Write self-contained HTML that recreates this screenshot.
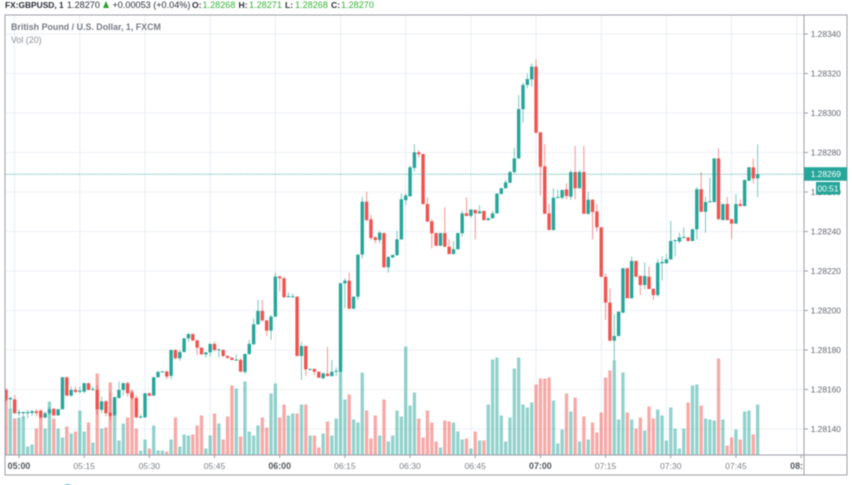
<!DOCTYPE html>
<html lang="en">
<head>
<meta charset="utf-8">
<title>GBPUSD 1 minute chart</title>
<style>
html,body{margin:0;padding:0;background:#fff;width:852px;height:485px;overflow:hidden}
#root{position:relative;width:852px;height:485px;filter:blur(.45px);font-family:"Liberation Sans",sans-serif}
.h{position:absolute;top:0;font-size:9.1px;line-height:11px;white-space:pre;color:#2a2e39}
.b{font-weight:bold}
.g{color:#35b235}
svg{position:absolute;left:0;top:0}
</style>
</head>
<body>
<div id="root">
  <span class="h b" style="left:5px;font-size:8.4px">FX:GBPUSD, 1</span>
  <span class="h" style="left:67px">1.28270</span>
  <span style="position:absolute;left:103px;top:1px;width:0;height:0;border-left:3.8px solid transparent;border-right:3.8px solid transparent;border-bottom:7px solid #2ca02c"></span>
  <span class="h" style="left:112.5px">+0.00053 (+0.04%)</span>
  <span class="h b" style="left:192px;font-size:8.6px">O:</span>
  <span class="h g" style="left:202.5px">1.28268</span>
  <span class="h b" style="left:238.5px;font-size:8.6px">H:</span>
  <span class="h g" style="left:249px">1.28271</span>
  <span class="h b" style="left:285px;font-size:8.6px">L:</span>
  <span class="h g" style="left:295px">1.28268</span>
  <span class="h b" style="left:331px;font-size:8.6px">C:</span>
  <span class="h g" style="left:341px">1.28270</span>
  <svg id="chart" width="852" height="485" viewBox="0 0 852 485"></svg>
  <span style="position:absolute;left:11px;top:22px;font-size:8.9px;line-height:11px;font-weight:bold;color:#767b85;white-space:pre">British Pound / U.S. Dollar, 1, FXCM</span>
  <span style="position:absolute;left:11px;top:35px;font-size:8.9px;line-height:11px;color:#8a8f98;white-space:pre">Vol (20)</span>
  <span style="position:absolute;left:64px;top:484px;width:7px;height:4px;border-radius:50%;background:#6cc5ee"></span>
</div>
<script>
// Prices are in points above 1.28000 (1 point = 0.00001). First bar is 3 minutes before 05:00.
const firstBar = -3;
const opens = [
159.8,155.0,155.0,148.0,148.0,148.0,148.1,149.0,149.3,145.8,
148.0,150.2,146.9,150.0,166.2,156.9,159.8,158.8,158.9,163.2,
159.9,159.8,149.7,154.0,148.3,146.9,155.7,159.8,163.2,158.4,
155.7,145.8,145.9,158.1,156.9,166.2,168.9,169.1,166.9,180.0,
175.8,179.0,185.9,188.1,184.9,181.2,177.8,178.8,183.1,180.0,
180.0,177.0,176.1,174.8,175.0,168.9,178.0,182.9,193.0,199.8,
195.0,189.8,196.9,217.2,216.3,206.8,206.8,207.0,177.0,182.0,
169.9,170.4,169.0,165.7,168.0,166.8,169.2,169.0,213.8,215.1,
200.9,207.0,228.3,255.1,246.2,237.0,235.7,239.2,221.9,226.9,
228.0,236.0,255.9,257.8,272.2,280.1,279.2,253.9,245.2,239.2,
232.8,239.2,232.3,228.6,231.0,239.1,249.2,247.9,250.9,249.2,
250.4,245.8,246.7,249.2,259.0,261.9,264.7,270.1,277.0,301.9,
314.2,317.0,323.5,290.2,273.0,249.2,240.8,257.0,257.1,261.3,
257.6,270.1,261.9,270.1,248.9,256.1,250.2,242.1,217.1,204.0,
184.7,187.1,198.9,221.4,206.2,225.1,217.5,212.9,217.1,211.0,
207.8,223.9,223.9,225.9,235.2,234.9,236.9,237.0,235.2,241.1,
261.4,250.0,254.8,254.9,277.0,245.8,253.9,246.2,244.0,253.9,
252.9,265.7,272.5,266.9];
const highs = [
160.6,156.4,157.2,150.0,148.8,149.6,149.6,150.0,150.0,148.8,
151.3,150.8,150.2,166.4,166.4,161.5,161.8,161.5,163.5,163.4,
161.5,162.3,156.4,154.7,158.9,156.4,164.0,163.4,164.0,159.8,
157.2,147.6,158.3,158.4,166.4,169.4,169.4,169.6,180.2,180.4,
180.0,186.1,188.5,188.3,185.1,181.4,179.2,183.3,184.2,180.4,
180.4,177.2,176.3,177.8,175.8,178.2,185.1,196.0,205.3,205.3,
195.2,197.8,219.2,217.7,217.1,209.2,208.7,207.2,184.2,182.2,
170.6,170.7,169.2,168.4,181.4,174.9,171.2,214.0,216.3,219.2,
207.2,228.5,257.6,260.2,248.4,237.7,240.3,239.4,227.6,228.3,
240.3,259.3,259.3,273.2,284.1,281.3,279.4,257.3,246.2,239.4,
239.4,252.2,236.0,235.2,239.4,250.4,257.3,251.3,251.1,253.4,
250.6,246.9,250.4,259.4,262.1,266.1,270.8,282.4,309.1,315.4,
320.1,325.1,327.2,290.4,284.1,253.9,261.9,261.3,261.2,264.4,
271.1,283.3,271.1,283.3,260.2,256.3,253.9,242.3,218.8,211.2,
198.2,199.6,221.6,221.6,227.3,225.3,217.7,224.4,222.2,211.2,
226.1,227.3,228.6,245.3,235.9,239.4,242.1,237.2,241.6,262.4,
270.0,257.6,267.3,277.2,282.1,254.1,257.6,246.4,259.0,256.3,
266.3,272.7,277.0,284.1];
const lows = [
153.9,150.5,147.6,146.6,145.4,145.4,146.6,146.3,145.4,145.4,
147.1,146.3,146.7,149.8,156.7,156.4,158.1,158.1,158.1,159.6,
159.4,147.1,148.0,146.3,144.6,146.7,155.4,157.2,156.4,154.7,
145.4,145.3,145.7,156.4,156.7,166.0,168.7,165.2,165.2,175.3,
174.6,178.8,184.2,184.6,177.5,177.6,176.1,176.7,179.2,176.3,
176.3,175.8,174.8,174.6,168.7,167.9,177.5,182.6,192.7,194.4,
187.1,185.1,196.7,209.6,206.5,206.5,206.5,176.8,164.8,166.8,
169.7,167.3,165.8,165.2,166.5,166.6,166.8,168.8,201.1,200.7,
200.7,205.3,226.4,245.0,235.7,234.0,234.0,221.7,219.2,226.4,
227.6,235.8,253.4,257.6,270.3,277.4,253.7,244.8,231.5,232.6,
232.6,232.1,228.4,228.4,230.8,237.4,247.7,247.0,236.0,249.0,
245.6,245.6,246.5,249.0,258.8,261.7,264.5,269.4,276.8,295.1,
312.5,313.3,289.8,258.1,248.8,240.6,240.4,256.8,256.3,256.3,
256.0,256.3,261.7,248.8,248.7,236.0,239.9,216.9,195.2,184.5,
174.4,186.8,198.7,206.0,206.0,216.9,207.8,210.7,210.7,205.3,
207.0,215.1,223.7,225.7,227.3,234.0,236.5,235.0,235.0,236.0,
249.8,239.4,254.6,254.7,246.0,245.6,245.6,236.2,243.8,252.7,
252.7,265.5,264.4,257.3];
const closes = [
154.7,155.7,148.0,148.6,148.6,148.6,149.0,148.1,145.8,148.0,
150.0,146.9,150.0,166.2,156.9,159.8,158.8,159.4,163.2,159.8,
160.3,150.0,154.0,148.0,146.6,156.1,159.8,163.2,158.1,155.7,
145.9,146.3,158.1,156.9,166.2,168.9,169.2,166.5,180.0,175.8,
179.0,185.9,188.1,184.8,181.2,177.8,178.8,183.1,180.0,180.4,
177.0,176.0,175.0,175.1,169.1,178.0,183.1,193.0,199.8,195.0,
189.8,196.9,217.2,216.3,206.7,207.3,207.2,177.0,182.0,170.2,
170.4,169.0,166.0,168.2,166.8,169.0,169.5,213.8,215.1,200.9,
207.0,228.3,255.1,245.8,236.7,235.7,239.4,221.9,227.1,228.1,
236.0,256.3,258.2,272.5,280.1,279.1,253.9,245.0,239.1,232.8,
239.2,232.3,228.6,231.0,239.2,249.2,247.9,251.1,249.2,250.2,
245.8,246.7,249.2,259.2,261.9,264.9,270.1,277.0,302.0,314.2,
317.2,323.5,290.0,272.8,249.0,240.8,257.1,257.5,261.0,258.0,
270.1,261.9,270.1,249.0,256.1,249.9,242.1,217.1,204.0,184.7,
187.1,199.4,221.4,206.2,225.1,217.1,212.9,217.5,210.9,207.8,
224.2,224.6,225.9,235.2,235.7,237.0,237.2,235.2,241.1,261.4,
250.0,254.9,255.3,277.0,246.2,253.9,245.8,244.0,253.9,252.9,
266.1,272.5,266.9,269.0];
const volumes = [
65,46,36,37,38,8,10,26,38,26,
53,36,26,17,28,21,23,44,23,32,
12,81,26,27,72,39,14,31,37,64,
26,4,15,6,29,4,4,3,15,37,
8,20,19,20,29,39,6,19,41,31,
15,38,69,66,18,73,23,19,29,37,
27,61,71,37,50,39,41,41,50,50,
19,19,7,21,33,19,36,84,55,60,
35,32,82,44,16,39,19,55,13,19,
44,38,108,49,62,36,17,44,32,13,
7,34,33,32,23,15,16,6,23,14,
14,50,95,97,39,13,37,86,97,50,
47,52,70,76,76,77,54,11,25,61,
43,57,13,38,15,32,22,42,77,84,
94,35,82,42,35,26,37,24,48,36,
45,39,14,47,26,6,26,52,69,70,
49,36,35,34,96,35,9,17,25,15,
43,44,20,50];
const priceTickLabels = ["1.28340","1.28320","1.28300","1.28280","1.28260","1.28240","1.28220","1.28200","1.28180","1.28160","1.28140"];
const timeTickLabels = ["05:00","05:15","05:30","05:45","06:00","06:15","06:30","06:45","07:00","07:15","07:30","07:45","08:"];
const lastPriceLabel = "1.28269";
const countdownLabel = "00:51";

const NS = "http://www.w3.org/2000/svg";
const svg = document.getElementById("chart");
const UP = "#26a69a", DOWN = "#ef5350";
const xScale = b => 19 + 4.345 * b;
const yScale = pts => 34 + (340 - pts) * 1.975;
const labelToPts = s => (parseFloat(s) - 1.28) * 100000;
const volScale = v => 454.5 - v;

function make(tag, attrs, parent, text) {
  const el = document.createElementNS(NS, tag);
  for (const k in attrs) el.setAttribute(k, attrs[k]);
  if (text !== undefined) el.textContent = text;
  parent.appendChild(el);
  return el;
}

const defs = make("defs", {}, svg);
const clip = make("clipPath", {id: "plot-clip"}, defs);
make("rect", {x: 5.5, y: 15, width: 798, height: 439.5}, clip);

const grid = make("g", {}, svg);


priceTickLabels.forEach(function (l) {
  const y = yScale(labelToPts(l));
  const line = make("line", {x1: 5, x2: 804, y1: y, y2: y, stroke: "#edf1f7", "stroke-width": 1}, grid);
  
  
});
timeTickLabels.forEach(function (l, k) {
  const x = xScale(15 * k - 1);
  const line = make("line", {x1: x, x2: x, y1: 15, y2: 455, stroke: "#e6eef5", "stroke-width": 1}, grid);
  
  
});

const plot = make("g", {"clip-path": "url(#plot-clip)"}, svg);



volumes.forEach(function (v, n) {
  const x = xScale(firstBar + n);
  const up = closes[n] >= opens[n];
  const bar = make("rect", {x: x - 1.65, y: volScale(v), width: 3.3, height: volScale(0) - volScale(v), fill: up ? UP : DOWN, "fill-opacity": 0.5}, plot);
  
  
});

opens.forEach(function (o, n) {
  const x = xScale(firstBar + n);
  const c = closes[n];
  const col = c >= o ? UP : DOWN;
  const g = make("g", {}, plot);
  
  
  const wick = make("line", {x1: x, x2: x, y1: yScale(highs[n]), y2: yScale(lows[n]), stroke: col, "stroke-width": 1, "stroke-opacity": 0.62}, g);
  
  
  const top = yScale(Math.max(o, c));
  const h = Math.max(1, yScale(Math.min(o, c)) - top);
  const body = make("rect", {x: x - 1.7, y: top, width: 3.4, height: h, fill: col}, g);
  
  
});

const priceLineY = yScale(labelToPts(lastPriceLabel));
const priceLine = make("line", {x1: 5, x2: 804, y1: priceLineY, y2: priceLineY, stroke: UP, "stroke-width": 1, "stroke-dasharray": "1.5 0.8", "stroke-opacity": 0.65}, svg);



const frame = make("g", {fill: "none", stroke: "#9b9fa8", "stroke-width": 1}, svg);


make("rect", {x: 5, y: 15, width: 842, height: 460}, frame);
make("line", {x1: 804, x2: 804, y1: 15, y2: 475}, frame);
make("line", {x1: 5, x2: 847, y1: 455, y2: 455}, frame);

const yAxis = make("g", {}, svg);


priceTickLabels.forEach(function (l) {
  const y = yScale(labelToPts(l));
  const tick = make("line", {x1: 804, x2: 808, y1: y, y2: y, stroke: "#9b9fa8", "stroke-width": 1}, yAxis);
  
  
  const t = make("text", {x: 810.7, y: y + 3.2, "font-size": 8.4, fill: "#62676f", "font-family": '"Liberation Sans",sans-serif'}, yAxis, l);
  
  
});

const xAxis = make("g", {}, svg);


timeTickLabels.forEach(function (l, k) {
  const x = xScale(15 * k);
  const hour = k % 4 === 0;
  const tick = make("line", {x1: x, x2: x, y1: 455, y2: 458, stroke: "#9b9fa8", "stroke-width": 1}, xAxis);
  
  
  const last = k === timeTickLabels.length - 1;
  const t = make("text", {x: last ? 803 : x, y: 469, "text-anchor": last ? "end" : "middle", "font-size": hour ? 8.9 : 8.6, "font-weight": hour ? "bold" : "normal", fill: hour ? "#53585f" : "#7b8087", "font-family": '"Liberation Sans",sans-serif'}, xAxis, l);
  
  
});

const priceTag = make("rect", {x: 804, y: priceLineY - 7, width: 43, height: 13.5, fill: UP}, svg);


const priceTagText = make("text", {x: 810.7, y: priceLineY + 3, "font-size": 8.4, fill: "#fff", "font-family": '"Liberation Sans",sans-serif'}, svg, lastPriceLabel);


const cdTag = make("rect", {x: 816, y: 182, width: 24, height: 12.5, fill: UP}, svg);


const cdText = make("text", {x: 828, y: 191.5, "text-anchor": "middle", "font-size": 8.4, fill: "#fff", "font-family": '"Liberation Sans",sans-serif'}, svg, countdownLabel);


</script>
</body>
</html>
